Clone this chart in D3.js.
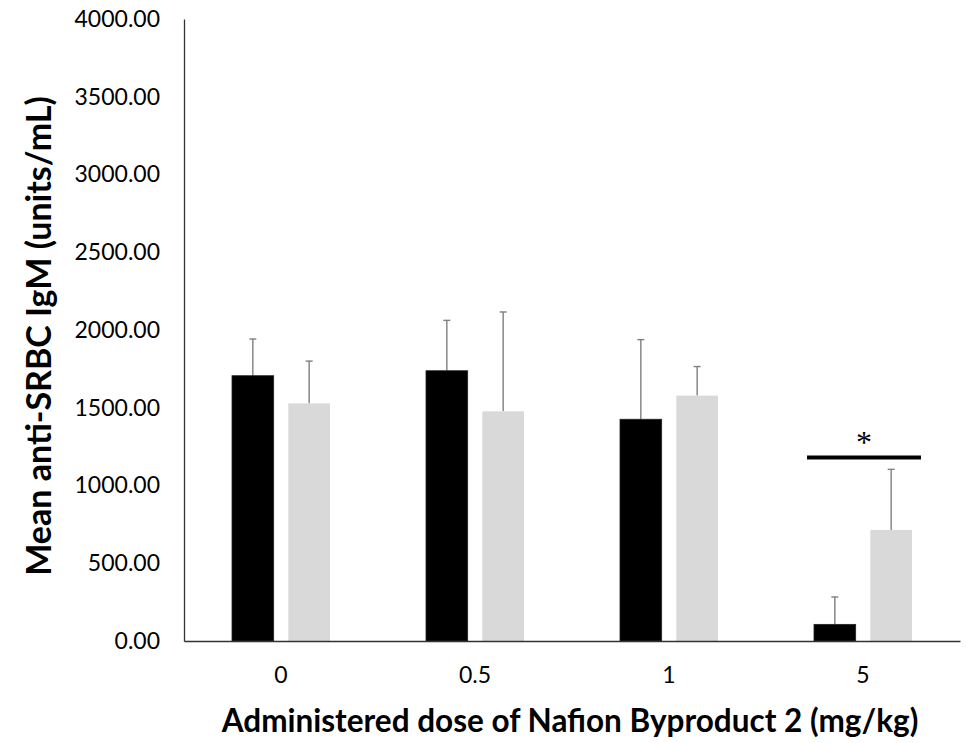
<!DOCTYPE html>
<html>
<head>
<meta charset="utf-8">
<script src="https://cdn.jsdelivr.net/npm/d3@7"></script>
<style>
  body { margin: 0; background: #fff; }
  text { font-family: Lato, "Open Sans", sans-serif; fill: #000; }
</style>
</head>
<body>
<svg id="chart" width="966" height="743"></svg>
<script>
// doses on the x axis
const doses = ['0', '0.5', '1', '5']
// two series per dose, black and light gray
const seriesKeys = ['black', 'gray']
const blackMeans = [1706, 1738, 1426, 107]
const blackErrors = [236, 324, 512, 176]
const grayMeans = [1528, 1477, 1578, 714]
const grayErrors = [272, 639, 187, 390]
const yTicks = [0, 500, 1000, 1500, 2000, 2500, 3000, 3500, 4000]
// significance bracket over dose 5
const significant = [{ dose: '5', mark: '*', level: 1180 }]

const colors = { black: '#000000', gray: '#d9d9d9' }

const svg = d3.select('#chart')
const margin = { top: 19, right: 6, bottom: 102, left: 184 }
const width = 966 - margin.left - margin.right
const height = 743 - margin.top - margin.bottom

const g = svg.append('g').attr('transform', `translate(${margin.left},${margin.top})`)

const x = d3.scaleBand().domain(doses).range([0, width]).paddingInner(0).paddingOuter(0)
const xInner = d3.scaleBand().domain(seriesKeys).range([x.bandwidth() / 2 - 49, x.bandwidth() / 2 + 49]).paddingInner(0.26)
const y = d3.scaleLinear().domain([0, 4000]).range([height, 0])

const rows = doses.map((d, i) => ({
  dose: d,
  values: [
    { key: 'black', mean: blackMeans[i], err: blackErrors[i] },
    { key: 'gray', mean: grayMeans[i], err: grayErrors[i] }
  ]
}))

// y axis
const yAxis = g.append('g')
  .call(d3.axisLeft(y).tickValues(yTicks).tickFormat(d3.format('.2f')).tickSize(0).tickPadding(24))
yAxis.select('.domain').attr('stroke', '#333').attr('stroke-width', 1.3)
yAxis.selectAll('text').style('font-size', '23px')

// error bars first, bars drawn over them
const groups = g.selectAll('g.dose')
  .data(rows)
  .enter()
  .append('g')
  .attr('class', 'dose')
  .attr('transform', (d) => `translate(${x(d.dose)},0)`)

groups.selectAll('g.err')
  .data((d) => d.values)
  .enter()
  .append('g')
  .attr('class', 'err')
  .each(function (d) {
    const cx = xInner(d.key) + xInner.bandwidth() / 2
    const sel = d3.select(this)
    sel.append('line')
      .attr('x1', cx).attr('x2', cx)
      .attr('y1', y(d.mean)).attr('y2', y(d.mean + d.err))
      .attr('stroke', '#7f7f7f').attr('stroke-width', 1.4)
    sel.append('line')
      .attr('x1', cx - 3.5).attr('x2', cx + 3.5)
      .attr('y1', y(d.mean + d.err)).attr('y2', y(d.mean + d.err))
      .attr('stroke', '#7f7f7f').attr('stroke-width', 1.4)
  })

groups.selectAll('rect')
  .data((d) => d.values)
  .enter()
  .append('rect')
  .attr('x', (d) => xInner(d.key))
  .attr('width', xInner.bandwidth())
  .attr('y', (d) => y(d.mean))
  .attr('height', (d) => height - y(d.mean))
  .attr('fill', (d) => colors[d.key])
  .attr('stroke', (d) => d.key === 'black' ? '#222' : 'none')
  .attr('stroke-width', 0.8)

// x axis
const xAxis = g.append('g')
  .attr('transform', `translate(0,${height})`)
  .call(d3.axisBottom(x).tickSize(0).tickPadding(26))
xAxis.select('.domain').attr('stroke', '#333').attr('stroke-width', 1.3)
xAxis.selectAll('text').style('font-size', '23px')

// significance bar
significant.forEach((s) => {
  const x0 = x(s.dose) + xInner.range()[0] - 7
  const x1 = x(s.dose) + xInner.range()[1] + 9
  g.append('line')
    .attr('x1', x0).attr('x2', x1)
    .attr('y1', y(s.level)).attr('y2', y(s.level))
    .attr('stroke', '#000').attr('stroke-width', 4)
  g.append('text')
    .attr('x', (x0 + x1) / 2)
    .attr('y', y(s.level) - 5)
    .attr('text-anchor', 'middle')
    .style('font-family', '"Liberation Serif", serif')
    .style('font-size', '32px')
    .text(s.mark)
})

// titles
svg.append('text')
  .attr('x', 570)
  .attr('y', 732)
  .attr('text-anchor', 'middle')
  .style('font-size', '31.5px')
  .style('font-weight', 'bold')
  .text('Administered dose of Nafion Byproduct 2 (mg/kg)')

svg.append('text')
  .attr('transform', 'translate(51,336) rotate(-90)')
  .attr('text-anchor', 'middle')
  .style('font-size', '34px')
  .style('font-weight', 'bold')
  .text('Mean anti-SRBC IgM (units/mL)')
</script>
</body>
</html>
